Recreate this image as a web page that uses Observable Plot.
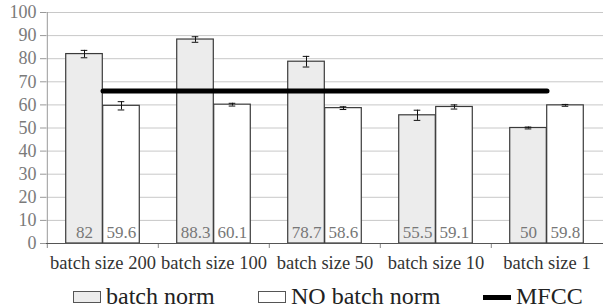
<!DOCTYPE html>
<html>
<head>
<meta charset="utf-8">
<script src="https://cdn.jsdelivr.net/npm/d3@7"></script>
<script src="https://cdn.jsdelivr.net/npm/@observablehq/plot@0.6"></script>
<style>
  body { margin: 0; background: #fff; }
  body, svg, svg text, .legend { font-family: "Liberation Serif", "Times New Roman", Times, serif !important; }
  #chart svg { display: block; }
  .legend { position: relative; height: 21px; overflow: visible; font-size: 24px; line-height: 24px; color: #222; }
  .item { position: absolute; top: 0; display: flex; align-items: flex-start; white-space: nowrap; }
  .sw { width: 28px; height: 12px; box-sizing: border-box; margin-top: 7px; margin-right: 5px; }
</style>
</head>
<body>
<div id="chart"></div>
<div class="legend" id="legend"></div>
<script>
const categories = ["batch size 200", "batch size 100", "batch size 50", "batch size 10", "batch size 1"];
const batchNorm = [82, 88.3, 78.7, 55.5, 50];
const noBatchNorm = [59.6, 60.1, 58.6, 59.1, 59.8];
const batchNormErr = [1.6, 1.2, 2.3, 2.2, 0.4];
const noBatchNormErr = [1.8, 0.6, 0.6, 0.9, 0.4];
const mfcc = 66;
const yTicks = [0, 10, 20, 30, 40, 50, 60, 70, 80, 90, 100];
const seriesNames = ["batch norm", "NO batch norm", "MFCC"];

const W = 603, H = 284, ML = 46, MR = 0, MT = 12, MB = 41;
const bw = (W - ML - MR) / categories.length;
const barW = bw * 0.332;
const capHalf = 3.5;

const rows = [];
categories.forEach((c, i) => {
  rows.push({cat: c, series: seriesNames[0], v: batchNorm[i], e: batchNormErr[i], side: -1});
  rows.push({cat: c, series: seriesNames[1], v: noBatchNorm[i], e: noBatchNormErr[i], side: 1});
});
const left = rows.filter(d => d.side < 0), right = rows.filter(d => d.side > 0);
const fill = {"batch norm": "#ececec", "NO batch norm": "#ffffff"};
const mfccRows = categories.map(c => ({cat: c, v: mfcc}));

const barMarks = (data, side) => [
  Plot.barY(data, {x: "cat", y: "v", fill: d => fill[d.series], stroke: "#3a3a3a", strokeWidth: 1.2,
    insetLeft: side < 0 ? bw / 2 - barW : bw / 2, insetRight: side < 0 ? bw / 2 : bw / 2 - barW}),
  Plot.ruleX(data, {x: "cat", y1: d => d.v - d.e, y2: d => d.v + d.e, dx: side * barW / 2, stroke: "#111", strokeWidth: 1}),
  Plot.tickY(data, {x: "cat", y: d => d.v - d.e, stroke: "#111", strokeWidth: 1,
    insetLeft: bw / 2 + side * barW / 2 - capHalf, insetRight: bw / 2 - side * barW / 2 - capHalf}),
  Plot.tickY(data, {x: "cat", y: d => d.v + d.e, stroke: "#111", strokeWidth: 1,
    insetLeft: bw / 2 + side * barW / 2 - capHalf, insetRight: bw / 2 - side * barW / 2 - capHalf}),
  Plot.text(data, {x: "cat", y: 0, text: d => String(d.v), dx: side * barW / 2, dy: -6, lineAnchor: "bottom",
    fill: "#777", fontSize: 17, fontFamily: "Liberation Serif"})
];

const chart = Plot.plot({
  width: W, height: H,
  marginLeft: ML, marginRight: MR, marginTop: MT, marginBottom: MB,
  style: {fontFamily: "Liberation Serif", background: "#fff"},
  x: {domain: categories, padding: 0, label: null},
  y: {domain: [0, 100], label: null},
  marks: [
    Plot.gridY(yTicks, {stroke: "#c8c8c8", strokeOpacity: 1, strokeWidth: 1}),
    Plot.axisY(yTicks, {tickSize: 6, tickPadding: 4, stroke: "#999", fill: "#7a7a7a", fontSize: 18, label: null}),
    Plot.axisX({tickSize: 5, text: null, dx: -bw / 2, stroke: "#888"}),
    Plot.axisX({tickSize: 0, tickPadding: 12, fill: "#333", fontSize: 18.5, label: null}),
    Plot.ruleX([categories[0]], {dx: -bw / 2, y1: 0, y2: 100, stroke: "#999", strokeWidth: 1}),
    ...barMarks(left, -1),
    ...barMarks(right, 1),
    Plot.ruleY([0], {stroke: "#555", strokeWidth: 1.2}),
    Plot.lineY(mfccRows, {x: "cat", y: "v", stroke: "#000", strokeWidth: 5})
  ]
});
document.getElementById("chart").appendChild(chart);

const legend = document.getElementById("legend");
const legendLeft = [73, 258, 483];
seriesNames.forEach((name, i) => {
  const item = document.createElement("div");
  item.className = "item";
  item.style.left = legendLeft[i] + "px";
  const sw = document.createElement("div");
  sw.className = "sw";
  if (i < 2) {
    sw.style.background = fill[name];
    sw.style.border = "1.3px solid #555";
  } else {
    sw.style.height = "5px";
    sw.style.marginTop = "11px";
    sw.style.background = "#000";
  }
  const t = document.createElement("span");
  t.textContent = name;
  item.appendChild(sw);
  item.appendChild(t);
  legend.appendChild(item);
});
</script>
</body>
</html>
